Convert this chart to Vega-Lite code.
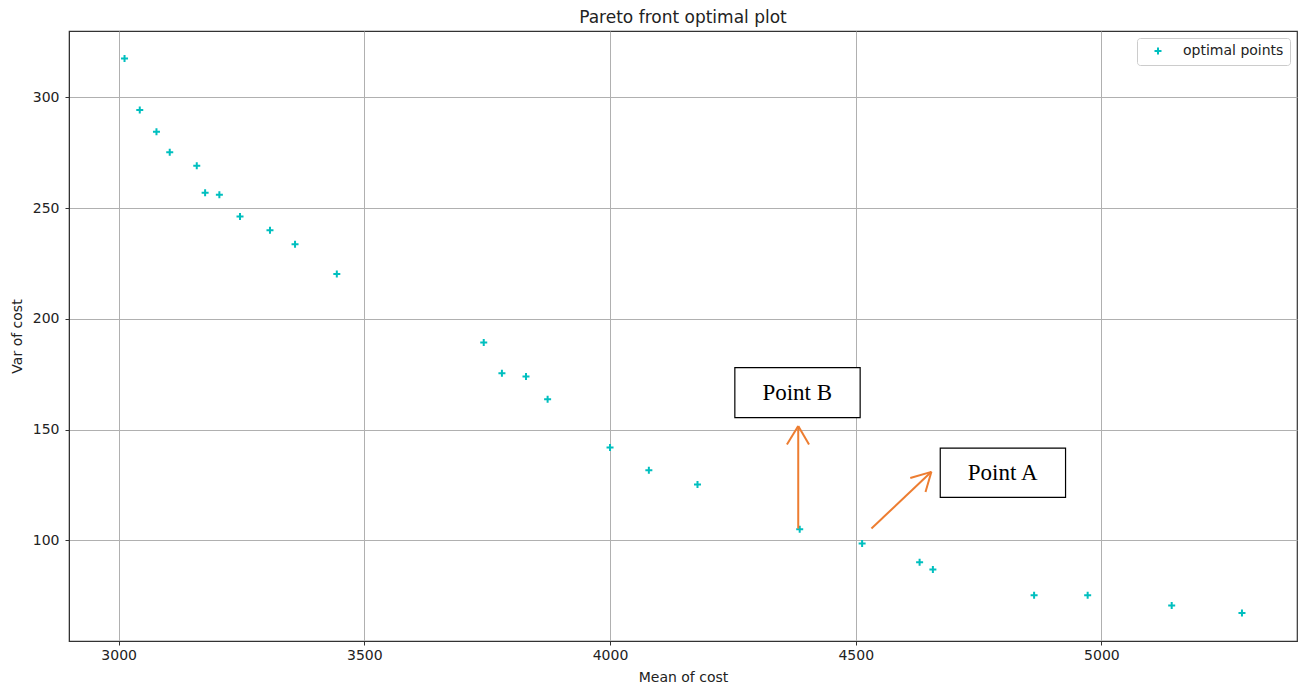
{
  "$schema": "https://vega.github.io/schema/vega-lite/v6.json",
  "width": 1228,
  "height": 610,
  "autosize": "none",
  "padding": {"left": 69, "top": 31, "right": 8, "bottom": 45},
  "background": "white",
  "title": {"text": "Pareto front optimal plot", "font": "DejaVu Sans", "fontSize": 17, "fontWeight": "normal", "color": "#222222", "offset": 4},
  "config": {
    "view": {"stroke": "#333333", "strokeWidth": 1.2},
    "axis": {
      "grid": true, "gridColor": "#b0b0b0", "gridWidth": 1,
      "domainColor": "#333333", "tickColor": "#333333", "tickSize": 4,
      "labelFont": "DejaVu Sans", "labelFontSize": 14, "labelColor": "#222222", "labelPadding": 5,
      "titleFont": "DejaVu Sans", "titleFontSize": 14, "titleFontWeight": "normal", "titleColor": "#222222"
    },
    "legend": {
      "orient": "top-right", "offset": 7, "padding": 6, "strokeColor": "#cccccc", "cornerRadius": 3, "fillColor": "white",
      "labelFont": "DejaVu Sans", "labelFontSize": 14, "labelColor": "#222222"
    }
  },
  "datasets": {
    "pts": [
      {"mean": 3012, "var": 317.6},
      {"mean": 3043, "var": 294.3},
      {"mean": 3077, "var": 284.5},
      {"mean": 3104, "var": 275.2},
      {"mean": 3159, "var": 269.1},
      {"mean": 3176, "var": 256.9},
      {"mean": 3205, "var": 256.0},
      {"mean": 3247, "var": 246.2},
      {"mean": 3308, "var": 240.0},
      {"mean": 3359, "var": 233.7},
      {"mean": 3444, "var": 220.3},
      {"mean": 3743, "var": 189.3},
      {"mean": 3780, "var": 175.4},
      {"mean": 3829, "var": 174.0},
      {"mean": 3873, "var": 163.7},
      {"mean": 4000, "var": 141.9},
      {"mean": 4079, "var": 131.6},
      {"mean": 4178, "var": 125.2},
      {"mean": 4386, "var": 105.0},
      {"mean": 4513, "var": 98.5},
      {"mean": 4630, "var": 90.1},
      {"mean": 4657, "var": 86.8},
      {"mean": 4863, "var": 75.2},
      {"mean": 4972, "var": 75.2},
      {"mean": 5143, "var": 70.5},
      {"mean": 5286, "var": 67.2}
    ],
    "boxes": [
      {"label": "Point B", "x1": 4254, "x2": 4509, "y1": 155.4, "y2": 178.0, "tx": 4381, "ty": 166.7},
      {"label": "Point A", "x1": 4672, "x2": 4927, "y1": 119.4, "y2": 141.6, "tx": 4799, "ty": 130.5}
    ],
    "segs": [
      {"x1": 4383, "y1": 105.3, "x2": 4383, "y2": 151.6},
      {"x1": 4383, "y1": 151.6, "x2": 4360, "y2": 143.2},
      {"x1": 4383, "y1": 151.6, "x2": 4405, "y2": 143.2},
      {"x1": 4532, "y1": 105.3, "x2": 4654, "y2": 130.9},
      {"x1": 4654, "y1": 130.9, "x2": 4611, "y2": 128.1},
      {"x1": 4654, "y1": 130.9, "x2": 4642, "y2": 121.8}
    ]
  },
  "layer": [
    {
      "data": {"name": "pts"},
      "mark": {"type": "point", "shape": "M-1,0L1,0M0,-1L0,1", "filled": false, "size": 49, "strokeWidth": 2, "opacity": 1},
      "encoding": {
        "x": {"field": "mean", "type": "quantitative", "scale": {"domain": [2899, 5398], "nice": false, "zero": false},
              "axis": {"title": "Mean of cost", "values": [3000, 3500, 4000, 4500, 5000], "format": "d", "labelPadding": 3, "titlePadding": 8}},
        "y": {"field": "var", "type": "quantitative", "scale": {"domain": [54.5, 330], "nice": false, "zero": false},
              "axis": {"title": "Var of cost", "values": [100, 150, 200, 250, 300], "format": "d", "labelPadding": 6, "titlePadding": 8}},
        "color": {"datum": "optimal points", "type": "nominal", "scale": {"range": ["#00bfbf"]},
                  "legend": {"title": null, "symbolType": "M-1,0L1,0M0,-1L0,1", "symbolSize": 49, "symbolStrokeWidth": 2, "symbolOffset": 8, "labelOffset": 18}}
      }
    },
    {
      "data": {"name": "segs"},
      "mark": {"type": "rule", "color": "#ed7d31", "strokeWidth": 2},
      "encoding": {
        "x": {"field": "x1", "type": "quantitative"},
        "x2": {"field": "x2"},
        "y": {"field": "y1", "type": "quantitative"},
        "y2": {"field": "y2"}
      }
    },
    {
      "data": {"name": "boxes"},
      "mark": {"type": "rect", "fill": "white", "stroke": "black", "strokeWidth": 1.2},
      "encoding": {
        "x": {"field": "x1", "type": "quantitative"},
        "x2": {"field": "x2"},
        "y": {"field": "y1", "type": "quantitative"},
        "y2": {"field": "y2"}
      }
    },
    {
      "data": {"name": "boxes"},
      "mark": {"type": "text", "font": "Liberation Serif", "fontSize": 23, "color": "black", "align": "center", "baseline": "middle"},
      "encoding": {
        "x": {"field": "tx", "type": "quantitative"},
        "y": {"field": "ty", "type": "quantitative"},
        "text": {"field": "label"}
      }
    }
  ]
}
